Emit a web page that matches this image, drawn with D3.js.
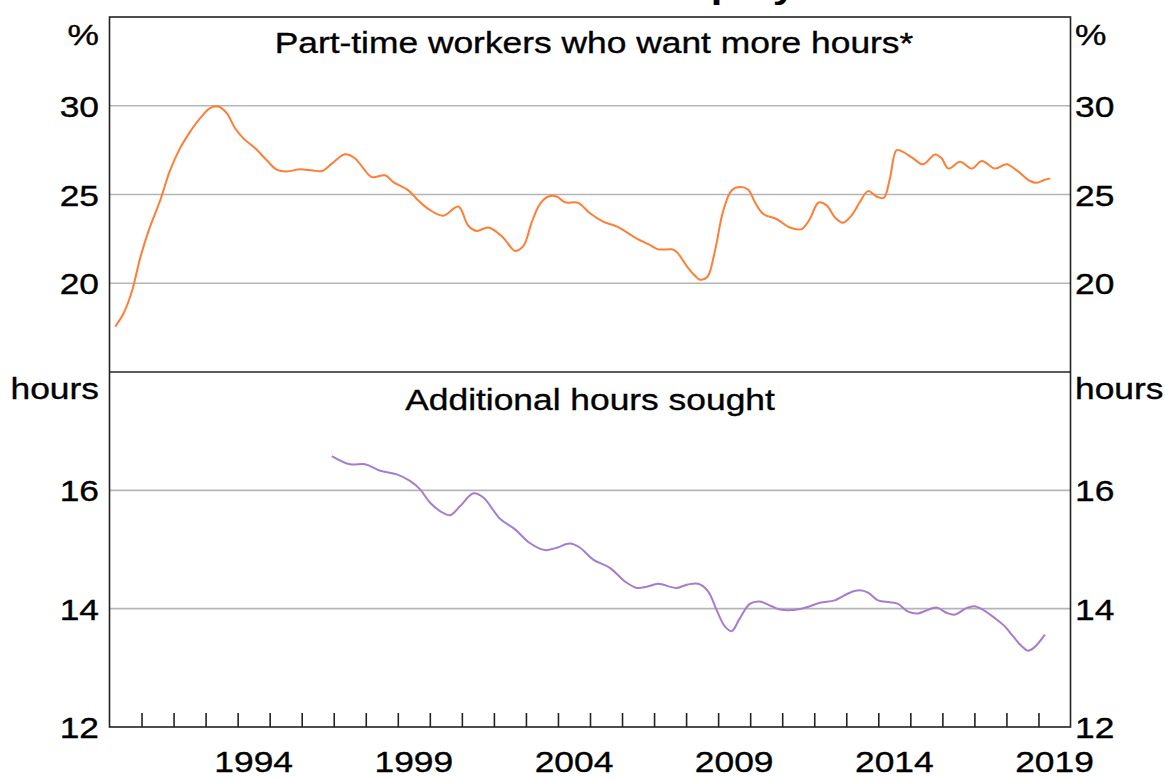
<!DOCTYPE html>
<html>
<head>
<meta charset="utf-8">
<script src="https://cdn.jsdelivr.net/npm/d3@7"></script>
<style>
  body { margin: 0; background: #fff; }
  svg text { font-family: Arial, "Liberation Sans", sans-serif; fill: #000; stroke: #000; stroke-width: 0.35px; }
  svg text.cut { stroke: none; }
</style>
</head>
<body>
<div class="chart"></div>
<script>
// Part-time workers / additional hours sought, two stacked panels

// top panel: share of part-time workers who want more hours (%)
var ptYears = [1990.18, 1990.44, 1990.70, 1990.96, 1991.22, 1991.58, 1991.89, 1992.20, 1992.52, 1992.83,
  1993.14, 1993.40, 1993.66, 1993.92, 1994.18, 1994.55, 1994.91, 1995.22, 1995.53, 1995.95,
  1996.31, 1996.63, 1996.94, 1997.35, 1997.67, 1997.93, 1998.19, 1998.60, 1998.86, 1999.33,
  1999.64, 1999.95, 2000.42, 2000.89, 2001.20, 2001.46, 2001.83, 2002.29, 2002.66, 2002.92,
  2003.18, 2003.44, 2003.70, 2003.96, 2004.22, 2004.63, 2005.00, 2005.41, 2005.83, 2006.46,
  2006.82, 2007.13, 2007.55, 2007.70, 2008.02, 2008.27, 2008.43, 2008.66, 2008.90, 2009.16,
  2009.42, 2009.68, 2009.94, 2010.15, 2010.41, 2010.82, 2011.24, 2011.60, 2011.84, 2012.14,
  2012.38, 2012.66, 2012.90, 2013.16, 2013.42, 2013.68, 2013.94, 2014.17, 2014.36, 2014.57,
  2014.77, 2015.09, 2015.40, 2015.77, 2015.98, 2016.19, 2016.55, 2016.92, 2017.23, 2017.65,
  2018.00, 2018.32, 2018.74, 2018.95, 2019.16, 2019.37];
var ptValues = [17.56, 18.31, 19.55, 21.44, 22.95, 24.66, 26.36, 27.60, 28.54, 29.30,
  29.87, 29.96, 29.58, 28.73, 28.16, 27.60, 26.93, 26.40, 26.30, 26.42,
  26.36, 26.32, 26.74, 27.27, 27.03, 26.46, 25.98, 26.08, 25.70, 25.23,
  24.66, 24.19, 23.80, 24.32, 23.24, 22.95, 23.14, 22.57, 21.82, 22.10,
  23.43, 24.47, 24.89, 24.89, 24.56, 24.53, 23.94, 23.47, 23.20, 22.52,
  22.20, 21.91, 21.91, 21.78, 20.97, 20.44, 20.20, 20.35, 21.82, 24.09,
  25.23, 25.42, 25.27, 24.56, 23.90, 23.62, 23.14, 23.05, 23.55, 24.55,
  24.40, 23.68, 23.41, 23.81, 24.56, 25.19, 24.89, 24.81, 25.89, 27.50,
  27.40, 27.03, 26.70, 27.26, 27.03, 26.46, 26.84, 26.46, 26.89, 26.46,
  26.70, 26.36, 25.76, 25.66, 25.80, 25.91];

// bottom panel: additional hours sought
var hrsYears = [1996.94, 1997.51, 1997.98, 1998.45, 1998.97, 1999.38, 1999.69, 2000.01, 2000.32, 2000.63,
  2000.94, 2001.36, 2001.67, 2002.19, 2002.66, 2003.12, 2003.59, 2003.96, 2004.37, 2004.69,
  2005.10, 2005.62, 2006.09, 2006.46, 2006.77, 2007.13, 2007.70, 2008.06, 2008.38, 2008.69,
  2008.95, 2009.21, 2009.42, 2009.68, 2009.99, 2010.30, 2010.67, 2010.98, 2011.60, 2012.18,
  2012.64, 2013.11, 2013.42, 2013.68, 2013.99, 2014.36, 2014.62, 2014.93, 2015.24, 2015.50,
  2015.82, 2016.13, 2016.39, 2016.75, 2017.01, 2017.27, 2017.64, 2017.95, 2018.21, 2018.47,
  2018.67, 2018.88, 2019.20];
var hrsValues = [16.58, 16.44, 16.44, 16.33, 16.27, 16.16, 16.02, 15.79, 15.65, 15.58,
  15.73, 15.95, 15.88, 15.52, 15.34, 15.11, 14.99, 15.03, 15.10, 15.03,
  14.83, 14.69, 14.46, 14.35, 14.37, 14.42, 14.35, 14.41, 14.42, 14.29,
  13.98, 13.70, 13.62, 13.84, 14.08, 14.12, 14.04, 13.98, 14.00, 14.10,
  14.14, 14.27, 14.31, 14.27, 14.14, 14.11, 14.08, 13.95, 13.92, 13.97,
  14.02, 13.93, 13.90, 14.01, 14.04, 13.98, 13.84, 13.70, 13.53, 13.37,
  13.29, 13.35, 13.56];

var topTicks = [20, 25, 30];
var bottomTicks = [12, 14, 16];
var yearTicks = d3.range(1991, 2020);
var yearLabels = [1994, 1999, 2004, 2009, 2014, 2019];

var svgWidth = 1165;
var svgHeight = 781;
var plotLeft = 109.5, plotRight = 1070.5;
var plotTop = 17, plotMid = 372, plotBottom = 727;
var stretch = 1.22; // text in the reference is drawn horizontally wide
var fontSize = 29;

var svg = d3.select(".chart")
    .append("svg")
    .attr("width", svgWidth)
    .attr("height", svgHeight);

var x = d3.scaleLinear().domain([1990, 2020]).range([plotLeft, plotRight]);
var yTop = d3.scaleLinear().domain([15, 35]).range([plotMid, plotTop]);
var yBottom = d3.scaleLinear().domain([12, 18]).range([plotBottom, plotMid]);

function label(px, py, str, anchor, size, weight) {
    var g = svg.append("g")
        .attr("transform", "translate(" + px + "," + py + ") scale(" + stretch + ",1)");
    return g.append("text")
        .attr("text-anchor", anchor)
        .style("font-size", size + "px")
        .style("font-weight", weight || "normal")
        .text(str);
}

// chart title, cut off by the top edge so only descenders show
label(531, -2, "Underemployment", "start", 34, "bold").attr("class", "cut");

// gridlines
svg.selectAll(".gridTop")
    .data(topTicks)
    .enter()
    .append("line")
    .attr("x1", plotLeft).attr("x2", plotRight)
    .attr("y1", function(d) { return yTop(d); })
    .attr("y2", function(d) { return yTop(d); })
    .attr("stroke", "#b5b5b5")
    .attr("stroke-width", 1.6);

svg.selectAll(".gridBottom")
    .data(bottomTicks.slice(1))
    .enter()
    .append("line")
    .attr("x1", plotLeft).attr("x2", plotRight)
    .attr("y1", function(d) { return yBottom(d); })
    .attr("y2", function(d) { return yBottom(d); })
    .attr("stroke", "#b5b5b5")
    .attr("stroke-width", 1.6);

// lines
var topLine = d3.line()
    .x(function(d, i) { return x(ptYears[i]); })
    .y(function(d) { return yTop(d); })
    .curve(d3.curveCatmullRom);

svg.append("path")
    .attr("d", topLine(ptValues))
    .attr("fill", "none")
    .attr("stroke", "#ff7e36")
    .attr("stroke-width", 2);

var bottomLine = d3.line()
    .x(function(d, i) { return x(hrsYears[i]); })
    .y(function(d) { return yBottom(d); })
    .curve(d3.curveCatmullRom);

svg.append("path")
    .attr("d", bottomLine(hrsValues))
    .attr("fill", "none")
    .attr("stroke", "#a47dd1")
    .attr("stroke-width", 2);

// frame and panel divider
svg.append("rect")
    .attr("x", plotLeft).attr("y", plotTop)
    .attr("width", plotRight - plotLeft).attr("height", plotBottom - plotTop)
    .attr("fill", "none")
    .attr("stroke", "#222")
    .attr("stroke-width", 1.6);

svg.append("line")
    .attr("x1", plotLeft).attr("x2", plotRight)
    .attr("y1", plotMid).attr("y2", plotMid)
    .attr("stroke", "#222")
    .attr("stroke-width", 1.6);

// year ticks on the bottom axis
var xAxis = d3.axisBottom(x)
    .tickValues(yearTicks)
    .tickSize(-14)
    .tickFormat("");

var axisG = svg.append("g")
    .attr("transform", "translate(0," + plotBottom + ")")
    .call(xAxis);
axisG.select(".domain").remove();
axisG.selectAll(".tick line").attr("stroke", "#222").attr("stroke-width", 1.6);

yearLabels.forEach(function(yr) {
    label(x(yr + 0.5), 772, String(yr), "middle", fontSize);
});

// y labels on both sides
topTicks.forEach(function(v) {
    label(99, yTop(v) + 11, String(v), "end", fontSize);
    label(1075, yTop(v) + 11, String(v), "start", fontSize);
});
bottomTicks.forEach(function(v) {
    label(99, yBottom(v) + 11, String(v), "end", fontSize);
    label(1075, yBottom(v) + 11, String(v), "start", fontSize);
});

label(99, 45, "%", "end", fontSize);
label(1075, 45, "%", "start", fontSize);
label(99, 399, "hours", "end", fontSize);
label(1075, 399, "hours", "start", fontSize);

// panel titles
label((plotLeft + plotRight) / 2 + 4, 53, "Part-time workers who want more hours*", "middle", fontSize);
label((plotLeft + plotRight) / 2, 410, "Additional hours sought", "middle", fontSize);
</script>
</body>
</html>
